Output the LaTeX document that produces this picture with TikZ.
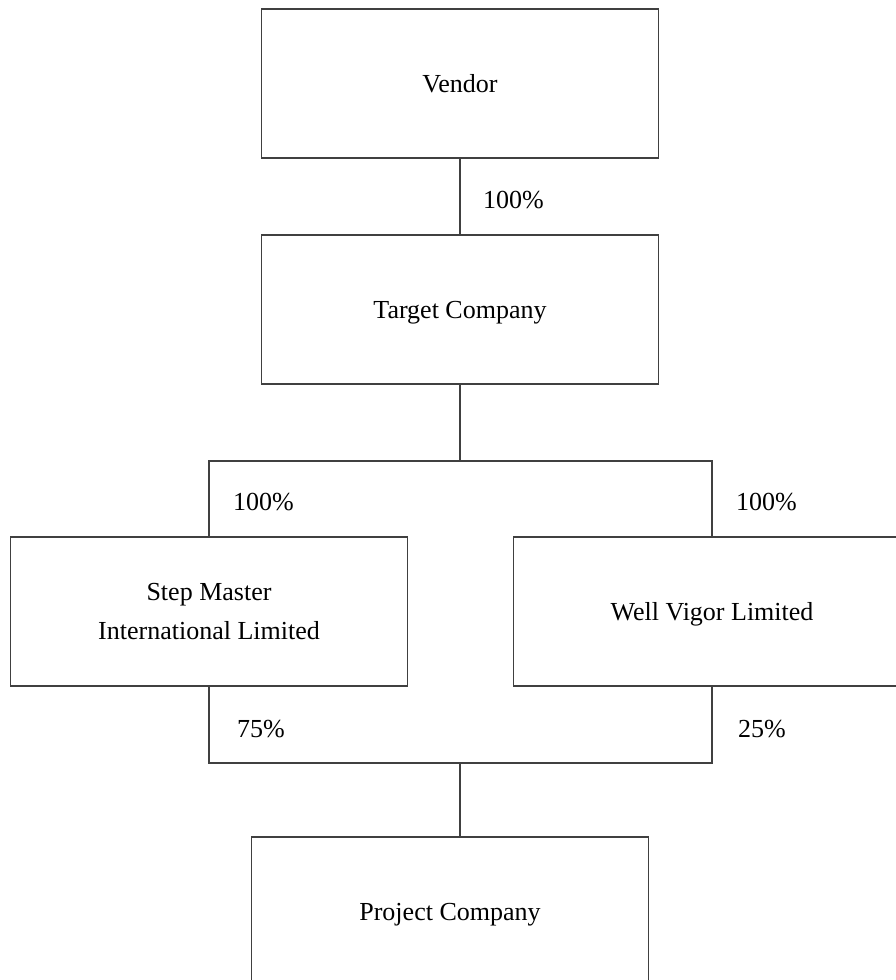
\documentclass[tikz,border=0pt]{standalone}
\usepackage{fontspec}
\setmainfont{Liberation Serif}
\tikzset{
  entity/.style={draw=black!75, line width=1.1pt, minimum width=397pt, minimum height=149pt,
    align=center, inner sep=0pt, text depth=0pt, font=\fontsize{26}{39}\selectfont},
  share/.style={anchor=west, inner sep=0pt, font=\fontsize{26}{39}\selectfont},
  link/.style={draw=black!75, line width=1.1pt}
}
\begin{document}
\begin{tikzpicture}[x=1pt, y=-1pt]
      \clip (0,0) rectangle (896,980);
      \node[entity] (vendor) at (460,83.5) {Vendor};
      \node[entity] (target) at (460,309.5) {Target Company};
      \node[entity] (step) at (209,611.5) {Step Master\\International Limited};
      \node[entity] (well) at (712,611.5) {Well Vigor Limited};
      \node[entity] (project) at (450,911.5) {Project Company};
      \coordinate (busA) at (460,461);
      \coordinate (busL) at (209,461);
      \coordinate (busR) at (712,461);
      \coordinate (busB) at (460,763);
      \coordinate (busBL) at (209,763);
      \coordinate (busBR) at (712,763);
      \begin{scope}[link]
        \draw (vendor) -- (target);
        \draw (target) -- (busA);
        \draw (step.north) -- (busL) -- (busR) -- (well.north);
        \draw (step.south) -- (busBL) -- (busBR) -- (well.south);
        \draw (busB) -- (busB |- project.north);
      \end{scope}
      \node[share] (pctVendor) at (483,200) {100\%};
      \node[share] (pctStep) at (233,502) {100\%};
      \node[share] (pctWell) at (736,502) {100\%};
      \node[share] (pctStepProj) at (237,729) {75\%};
      \node[share] (pctWellProj) at (738,729) {25\%};
    \end{tikzpicture}
\end{document}
